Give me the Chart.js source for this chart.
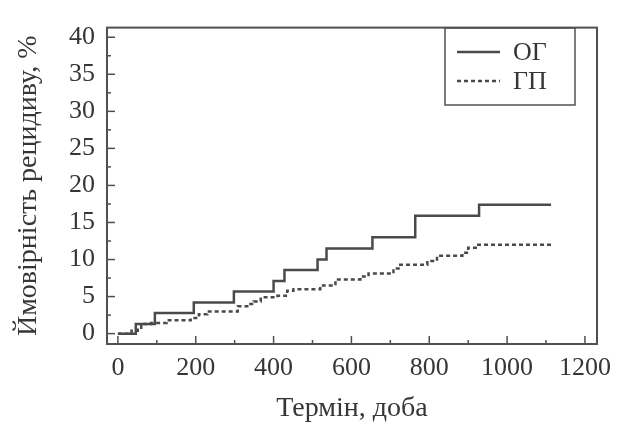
<!DOCTYPE html>
<html>
<head>
<meta charset="utf-8">
<script src="https://cdn.jsdelivr.net/npm/chart.js@4"></script>
<style>
  html, body { margin: 0; background: #fff; }
  #wrap { width: 625px; height: 427px; }
</style>
</head>
<body>
<div id="wrap"><canvas id="chart"></canvas></div>
<script>
// Kaplan-Meier style steps: day of jump, cumulative probability after jump (%)
const ogDays = [0, 46, 95, 195, 298, 400, 428, 513, 536, 654, 764, 928, 1113];
const ogValues = [0, 1.3, 2.8, 4.2, 5.7, 7.1, 8.6, 10.0, 11.5, 13.0, 15.9, 17.4, 17.4];

const gpDays = [0, 35, 51, 60, 85, 125, 187, 208, 230, 308, 336, 349, 367, 410, 435, 451,
  520, 559, 623, 644, 708, 721, 795, 820, 885, 900, 926, 1113];
const gpValues = [0, 0.4, 0.8, 1.3, 1.45, 1.8, 2.1, 2.6, 3.0, 3.7, 4.0, 4.35, 4.9, 5.1, 5.8, 6.0,
  6.5, 7.3, 7.7, 8.1, 8.8, 9.3, 9.8, 10.5, 10.9, 11.6, 12.0, 12.0];

const seriesNames = ["ОГ", "ГП"];
const xTickValues = [0, 200, 400, 600, 800, 1000, 1200];
const yTickValues = [0, 5, 10, 15, 20, 25, 30, 35, 40];

const ink = "#363636";
const lineColor = "#4a4a4a";
const serif = "'Liberation Serif', 'DejaVu Serif', serif";

const toPoints = (days, values) => days.map((d, i) => ({ x: d, y: values[i] }));

// frame, inward ticks and boxed legend
const framePlugin = {
  id: "frame",
  afterDraw(chart) {
    const { ctx, chartArea: a, scales } = chart;
    const xs = scales.x, ys = scales.y;
    ctx.save();
    ctx.strokeStyle = "#505050";
    ctx.lineWidth = 2;
    ctx.strokeRect(a.left, a.top, a.right - a.left, a.bottom - a.top);

    ctx.lineWidth = 1.5;
    for (let v = 0; v <= 1200; v += 100) {
      const px = xs.getPixelForValue(v);
      const len = v % 200 === 0 ? 8 : 4;
      ctx.beginPath();
      ctx.moveTo(px, a.bottom);
      ctx.lineTo(px, a.bottom - len);
      ctx.stroke();
    }
    for (let v = 0; v <= 40; v += 2.5) {
      const py = ys.getPixelForValue(v);
      const len = v % 5 === 0 ? 8 : 4;
      ctx.beginPath();
      ctx.moveTo(a.left, py);
      ctx.lineTo(a.left + len, py);
      ctx.stroke();
    }

    // legend
    ctx.lineWidth = 1.5;
    ctx.strokeRect(445, 28, 130, 77);
    ctx.font = "26px " + serif;
    ctx.fillStyle = ink;
    ctx.textBaseline = "middle";
    chart.data.datasets.forEach((ds, i) => {
      const y = 52 + i * 29;
      ctx.strokeStyle = ds.borderColor;
      ctx.lineWidth = ds.borderWidth;
      ctx.setLineDash(ds.borderDash || []);
      ctx.beginPath();
      ctx.moveTo(457, y);
      ctx.lineTo(500, y);
      ctx.stroke();
      ctx.setLineDash([]);
      ctx.fillText(ds.label, 513, y + 1);
    });
    ctx.restore();
  },
};

new Chart(document.getElementById("chart"), {
  type: "line",
  data: {
    datasets: [
      {
        label: seriesNames[0],
        data: toPoints(ogDays, ogValues),
        stepped: true,
        borderColor: lineColor,
        borderWidth: 2.5,
        pointRadius: 0,
        fill: false,
      },
      {
        label: seriesNames[1],
        data: toPoints(gpDays, gpValues),
        stepped: true,
        borderColor: lineColor,
        borderWidth: 2.5,
        borderDash: [4, 3],
        pointRadius: 0,
        fill: false,
      },
    ],
  },
  options: {
    responsive: true,
    maintainAspectRatio: false,
    animation: false,
    layout: { padding: { left: 0, right: 28, top: 13, bottom: 0 } },
    plugins: {
      legend: { display: false },
      tooltip: { enabled: false },
    },
    scales: {
      x: {
        type: "linear",
        min: -28,
        max: 1231,
        afterBuildTicks: (scale) => {
          scale.ticks = xTickValues.map((v) => ({ value: v }));
        },
        afterFit: (scale) => { scale.height = 83; },
        grid: { display: false, drawTicks: false },
        border: { display: false },
        ticks: {
          color: ink,
          padding: 9,
          maxRotation: 0,
          autoSkip: false,
          callback: (v) => String(v),
          font: { family: serif, size: 26 },
        },
        title: {
          display: true,
          text: "Термін, доба",
          color: ink,
          font: { family: serif, size: 28 },
          padding: { top: 4, bottom: 2 },
        },
      },
      y: {
        type: "linear",
        min: -1.4,
        max: 41.3,
        afterBuildTicks: (scale) => {
          scale.ticks = yTickValues.map((v) => ({ value: v }));
        },
        afterFit: (scale) => { scale.width = 107; },
        grid: { display: false, drawTicks: false },
        border: { display: false },
        ticks: {
          color: ink,
          padding: 12,
          autoSkip: false,
          font: { family: serif, size: 26 },
        },
        title: {
          display: true,
          text: "Ймовірність рецидиву, %",
          color: ink,
          font: { family: serif, size: 28 },
          padding: { top: 12, bottom: 0 },
        },
      },
    },
  },
  plugins: [framePlugin],
});
</script>
</body>
</html>
